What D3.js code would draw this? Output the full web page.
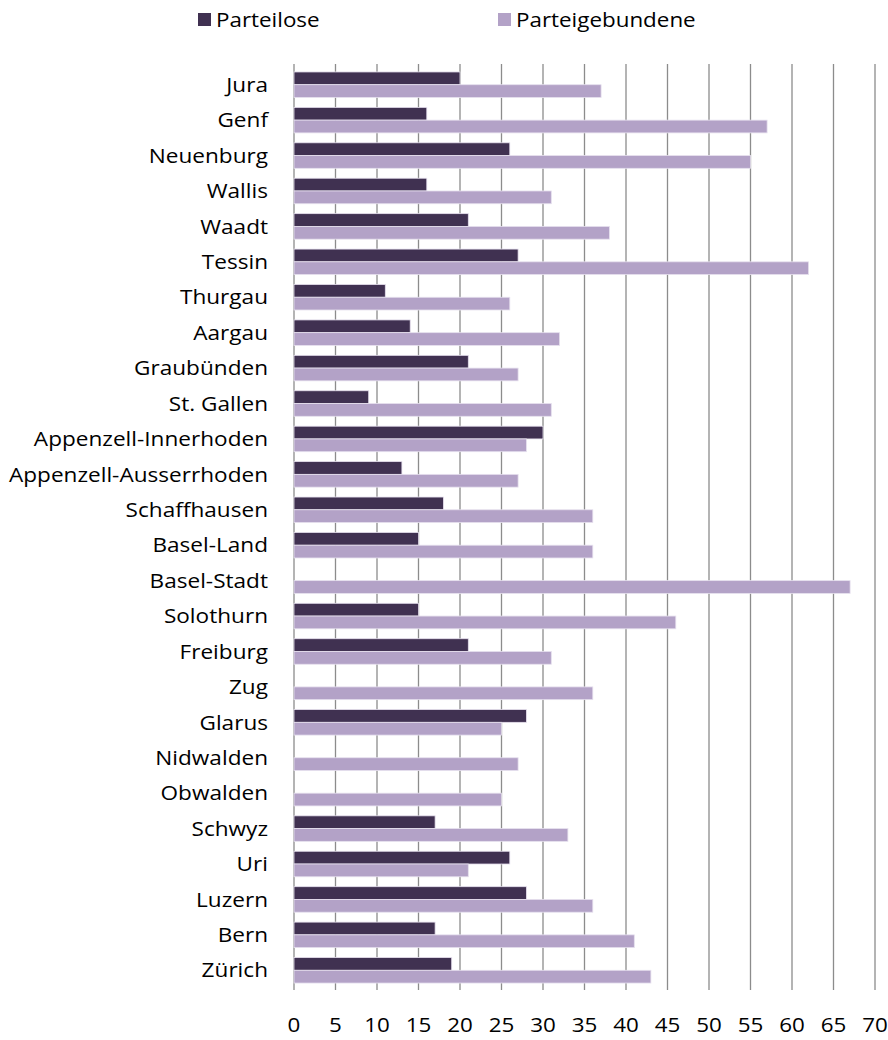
<!DOCTYPE html>
<html><head><meta charset="utf-8">
<script src="https://cdn.jsdelivr.net/npm/d3@7"></script>
<style>body{margin:0;background:#fff}svg{display:block}text{font-family:"Open Sans",sans-serif;fill:#000}</style>
</head><body><svg id="c" width="888" height="1040"></svg>
<script>
const categories = ["Jura","Genf","Neuenburg","Wallis","Waadt","Tessin","Thurgau","Aargau","Graubünden","St. Gallen","Appenzell-Innerhoden","Appenzell-Ausserrhoden","Schaffhausen","Basel-Land","Basel-Stadt","Solothurn","Freiburg","Zug","Glarus","Nidwalden","Obwalden","Schwyz","Uri","Luzern","Bern","Zürich"];
const parteilose = [20,16,26,16,21,27,11,14,21,9,30,13,18,15,0,15,21,0,28,0,0,17,26,28,17,19];
const parteigebundene = [37,57,55,31,38,62,26,32,27,31,28,27,36,36,67,46,31,36,25,27,25,33,21,36,41,43];
const seriesNames = ["Parteilose","Parteigebundene"];
const colors = ["#403151","#b3a2c7"];
const xTicks = d3.range(0,71,5);

const svg = d3.select("#c");
const x = d3.scaleLinear().domain([0,70]).range([294,875]);
const y = d3.scaleBand().domain(categories).range([67,988]).paddingInner(0.28).paddingOuter(0.14);
const sub = d3.scaleBand().domain(seriesNames).range([0,y.bandwidth()]);

svg.append("g").selectAll("line").data(xTicks).join("line")
  .attr("x1",d=>x(d)).attr("x2",d=>x(d)).attr("y1",64).attr("y2",990)
  .attr("stroke","#8c8c8c").attr("stroke-width",1.3);

const series = [parteilose, parteigebundene];
series.forEach((vals,si)=>{
  svg.append("g").selectAll("rect").data(categories).join("rect")
    .attr("x",x(0)).attr("y",(d)=>y(d)+sub(seriesNames[si]))
    .attr("width",(d,i)=>x(vals[i])-x(0)).attr("height",sub.bandwidth())
    .attr("fill",colors[si])
    .attr("stroke",(d,i)=>vals[i]>0?"#e6e0ee":"none").attr("stroke-width",0.8);
});

const SX = 1.13;
svg.append("g").selectAll("text").data(categories).join("text")
  .attr("transform",d=>`translate(268,${y(d)+y.bandwidth()/2}) scale(${SX},1)`)
  .attr("dy","0.36em").attr("text-anchor","end").attr("font-size",20).text(d=>d);

svg.append("g").selectAll("text").data(xTicks).join("text")
  .attr("transform",d=>`translate(${x(d)},1032) scale(1.12,1)`)
  .attr("text-anchor","middle").attr("font-size",20).text(d=>d);

const leg = [{x:198,t:seriesNames[0],c:colors[0]},{x:498,t:seriesNames[1],c:colors[1]}];
const lg = svg.append("g").selectAll("g").data(leg).join("g");
lg.append("rect").attr("x",d=>d.x).attr("y",13).attr("width",13).attr("height",13).attr("fill",d=>d.c);
lg.append("text").attr("transform",d=>`translate(${d.x+18},20) scale(1.12,1)`)
  .attr("dy","0.36em").attr("font-size",20).text(d=>d.t);
</script></body></html>
